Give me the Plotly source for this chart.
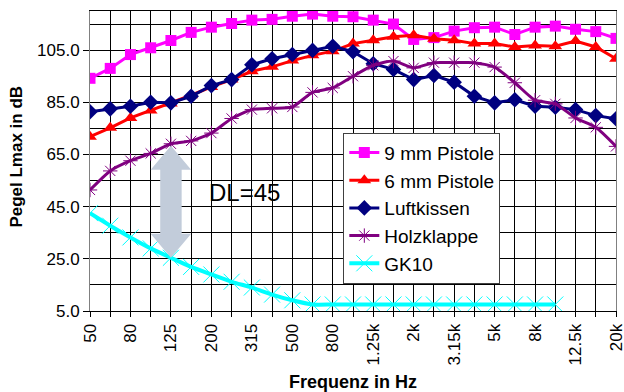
import plotly.graph_objects as go

# ---- data ----
freq_labels = ["50", "63", "80", "100", "125", "160", "200", "250", "315", "400",
               "500", "630", "800", "1k", "1.25k", "1.6k", "2k", "2.5k", "3.15k", "4k",
               "5k", "6.3k", "8k", "10k", "12.5k", "16k", "20k"]

pistole_9mm = [94.2, 98.0, 103.3, 105.9, 108.7, 111.8, 113.8, 115.2, 116.5, 116.8,
               118.0, 118.8, 118.0, 117.8, 116.5, 115.0, 109.1, 109.8, 112.3, 113.6,
               113.8, 111.0, 113.8, 114.2, 113.0, 112.1, 109.5]
pistole_6mm = [71.8, 75.2, 79.0, 81.9, 84.5, 87.7, 90.9, 93.7, 96.9, 98.6,
               101.0, 103.0, 104.6, 107.5, 108.8, 110.1, 110.7, 109.4, 108.8, 107.5,
               107.5, 106.2, 106.8, 106.5, 108.5, 106.2, 101.7]
luftkissen = [81.4, 82.5, 83.5, 85.0, 84.8, 87.3, 91.4, 93.7, 99.4, 101.7,
              103.3, 104.9, 106.5, 104.4, 99.8, 97.6, 93.7, 95.3, 92.7, 87.3,
              84.8, 86.0, 83.5, 83.1, 82.2, 79.9, 78.7]
holzklappe = [51.4, 58.7, 62.6, 65.4, 69.1, 70.2, 73.2, 78.8, 82.2, 82.7,
              83.2, 88.8, 90.5, 95.0, 99.2, 100.8, 98.2, 100.2, 100.2, 100.2,
              98.5, 92.5, 85.8, 84.4, 79.0, 75.4, 68.1]
gk10 = [42.5, 37.7, 33.2, 29.0, 25.4, 21.9, 19.0, 16.2, 14.0, 11.3,
        9.1, 7.5, 7.5, 7.5, 7.5, 7.5, 7.5, 7.5, 7.5, 7.5,
        7.5, 7.5, 7.5, 7.5]

y_tick_vals = [5, 25, 45, 65, 85, 105]
dl_label = "DL=45"
arrow_index = 4  # 125 Hz band

FONT = "Arial, Liberation Sans, sans-serif"

idx = list(range(len(freq_labels)))
tick_text = [lab if i % 2 == 0 else "" for i, lab in enumerate(freq_labels)]

fig = go.Figure()

fig.add_trace(go.Scatter(
    x=idx, y=pistole_9mm, name="9 mm Pistole", mode="lines+markers",
    line=dict(color="#FF00FF", width=3),
    marker=dict(symbol="square", size=11, color="#FF00FF")))
fig.add_trace(go.Scatter(
    x=idx, y=pistole_6mm, name="6 mm Pistole", mode="lines+markers",
    line=dict(color="#FF0000", width=3),
    marker=dict(symbol="triangle-up", size=12, color="#FF0000")))
fig.add_trace(go.Scatter(
    x=idx, y=luftkissen, name="Luftkissen", mode="lines+markers",
    line=dict(color="#000080", width=3),
    marker=dict(symbol="diamond", size=12, color="#000080")))
fig.add_trace(go.Scatter(
    x=idx, y=holzklappe, name="Holzklappe", mode="lines+markers",
    line=dict(color="#800080", width=3, shape="spline", smoothing=0.6),
    marker=dict(symbol="asterisk-open", size=12, color="#800080",
                line=dict(color="#800080", width=1))))
fig.add_trace(go.Scatter(
    x=idx[:len(gk10)], y=gk10, name="GK10", mode="lines+markers",
    line=dict(color="#00FFFF", width=4, shape="spline", smoothing=0.6),
    marker=dict(symbol="x-thin-open", size=16, color="#00FFFF",
                line=dict(color="#00FFFF", width=1))))

# double-headed arrow between Holzklappe and GK10 at 125 Hz
xc = arrow_index
top = holzklappe[arrow_index] - 0.8
bot = gk10[arrow_index]
hw_head, hw_shaft, head_len = 1.0, 0.53, 9.2
path = (f"M {xc} {top} L {xc + hw_head} {top - head_len} L {xc + hw_shaft} {top - head_len} "
        f"L {xc + hw_shaft} {bot + head_len} L {xc + hw_head} {bot + head_len} L {xc} {bot} "
        f"L {xc - hw_head} {bot + head_len} L {xc - hw_shaft} {bot + head_len} "
        f"L {xc - hw_shaft} {top - head_len} L {xc - hw_head} {top - head_len} Z")
fig.add_shape(type="path", path=path, xref="x", yref="y",
              fillcolor="#C2CCDA", line=dict(width=0), layer="above")

fig.add_annotation(x=7.66, y=50.6, xref="x", yref="y", text=dl_label,
                   showarrow=False, font=dict(family=FONT, size=24, color="black"))

# axis titles
fig.add_annotation(x=0.5, y=-0.237, xref="paper", yref="paper", text="<b>Frequenz in Hz</b>",
                   showarrow=False, font=dict(family=FONT, size=18, color="black"),
                   xanchor="center", yanchor="middle")
fig.add_annotation(x=-0.1397, y=0.513, xref="paper", yref="paper", text="<b>Pegel Lmax in dB</b>",
                   showarrow=False, textangle=-90, font=dict(family=FONT, size=17, color="black"),
                   xanchor="center", yanchor="middle")

fig.update_xaxes(
    range=[0, len(freq_labels) - 1], tickmode="array", tickvals=idx, ticktext=tick_text,
    tickangle=-90, ticks="outside", ticklen=5, tickcolor="black",
    tickfont=dict(family=FONT, size=17, color="black"), ticklabeloverflow="allow",
    automargin=False,
    showgrid=True, gridcolor="black", gridwidth=1,
    showline=True, linecolor="black", linewidth=1, mirror=True, zeroline=False)
fig.update_yaxes(
    range=[5, 120], tickmode="array", tickvals=y_tick_vals, tickformat=".1f",
    ticks="outside", ticklen=6, tickcolor="black",
    tickfont=dict(family=FONT, size=17, color="black"),
    automargin=False,
    showgrid=True, gridcolor="black", gridwidth=1,
    minor=dict(tickmode="linear", tick0=5, dtick=10, showgrid=True, gridcolor="black", gridwidth=1),
    showline=True, linecolor="#808080", linewidth=1, mirror=True, zeroline=False)

fig.update_layout(
    width=624, height=392,
    margin=dict(l=90, r=8, t=11, b=81),
    paper_bgcolor="white", plot_bgcolor="white",
    font=dict(family=FONT, color="black"),
    showlegend=True,
    legend=dict(x=0.4816, y=0.5945, xanchor="left", yanchor="top",
                bgcolor="white", bordercolor="#404040", borderwidth=1,
                font=dict(family=FONT, size=19, color="black"),
                itemwidth=30, tracegroupgap=0),
)

fig.write_html("out.html", config={"displayModeBar": False},
               post_script="document.body.style.margin='0px';")
